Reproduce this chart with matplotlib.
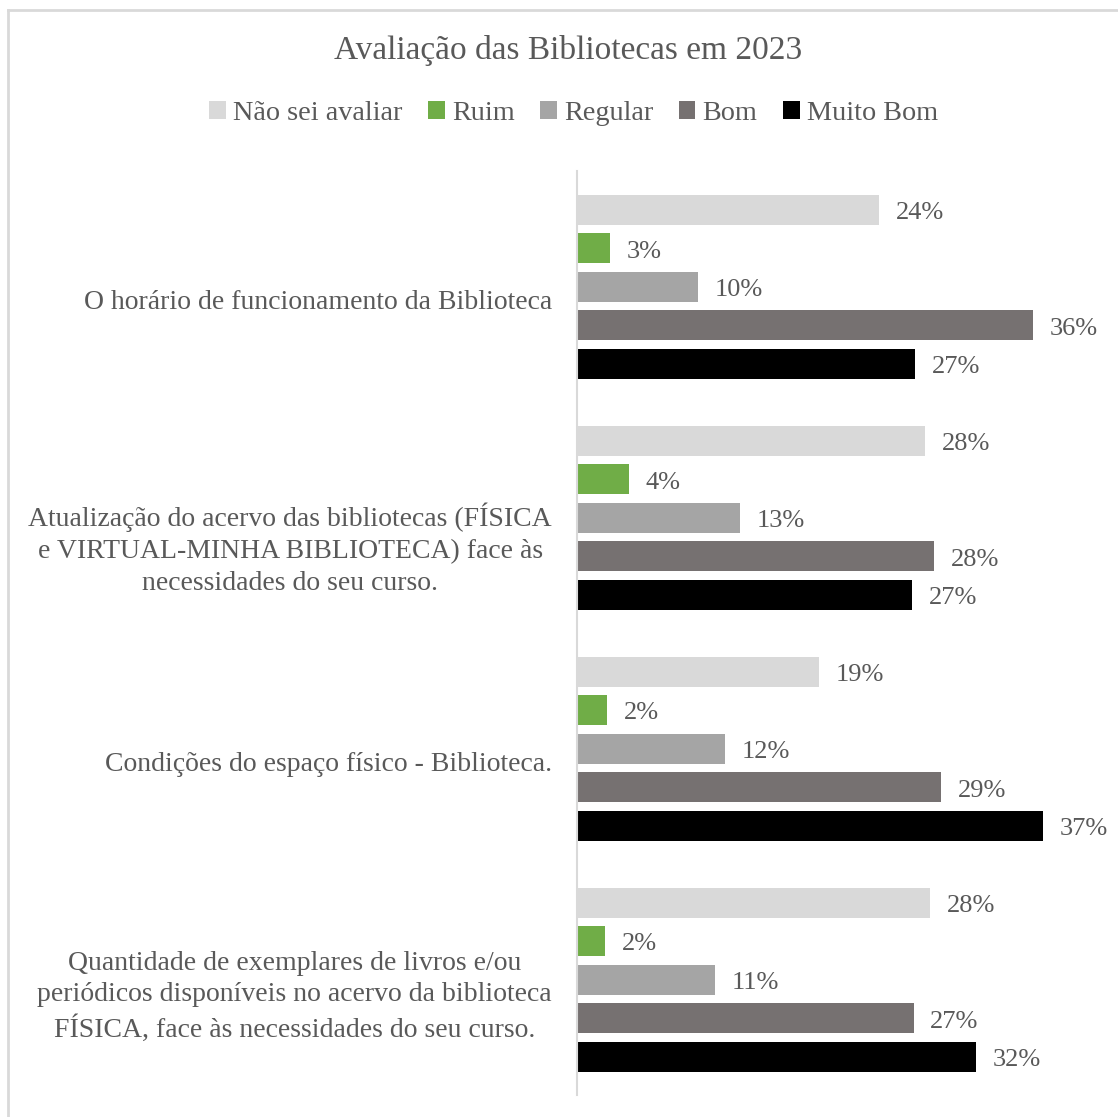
"""
Avaliação das Bibliotecas em 2023 - horizontal grouped bars per question.
"""

import matplotlib.pyplot as plt
import numpy as np
from matplotlib.lines import Line2D
from matplotlib.patches import Patch

plt.rcParams["font.family"] = ["Liberation Serif", "DejaVu Serif"]

TEXT_COLOR = "#595959"

questions = [
    "O horário de funcionamento da Biblioteca",
    "Atualização do acervo das bibliotecas (FÍSICA\n"
    "e VIRTUAL-MINHA BIBLIOTECA) face às\n"
    "necessidades do seu curso.",
    "Condições do espaço físico - Biblioteca.",
    "Quantidade de exemplares de livros e/ou\n"
    "periódicos disponíveis no acervo da biblioteca\n"
    "FÍSICA, face às necessidades do seu curso.",
]

series_names = ["Não sei avaliar", "Ruim", "Regular", "Bom", "Muito Bom"]
series_colors = ["#d9d9d9", "#70ad47", "#a5a5a5", "#767171", "#000000"]

# percentages per question, in the order of `questions`
nao_sei = [23.9, 27.5, 19.1, 27.9]
ruim = [2.6, 4.1, 2.4, 2.2]
regular = [9.6, 12.9, 11.7, 10.9]
bom = [36.0, 28.2, 28.8, 26.6]
muito_bom = [26.7, 26.5, 36.8, 31.5]

series_values = [nao_sei, ruim, regular, bom, muito_bom]

# vertical nudge (points) of each category label below its group centre
label_drop = [11.5, 22.5, 11.5, 12]


def main():
    fig = plt.figure(figsize=(11.18, 11.17), dpi=100)
    ax = fig.add_axes([0.516, 0.0193, 0.47, 0.8272])

    # thin frame around the chart area
    fig.add_artist(Line2D([7.5 / 1118, 7.5 / 1118], [0, 1 - 9.5 / 1117],
                          transform=fig.transFigure, color="#d9d9d9", lw=2))
    fig.add_artist(Line2D([7.5 / 1118, 1], [1 - 9.5 / 1117, 1 - 9.5 / 1117],
                          transform=fig.transFigure, color="#d9d9d9", lw=2))

    y = np.arange(len(questions))
    step = 0.1667
    height = 0.13

    for idx, (name, values, color) in enumerate(zip(series_names, series_values, series_colors)):
        offset = (idx - 2) * step
        bars = ax.barh(y + offset, values, height, color=color, label=name)
        labels = [f"{int(v + 0.5)}%" for v in values]
        texts = ax.bar_label(bars, labels=labels, padding=12, fontsize=19, color=TEXT_COLOR)
        for t in texts:
            t.xyann = (12, -2.2)

    ax.set_ylim(len(questions) - 0.5, -0.5)
    ax.set_xlim(0, (1100 - 577) / 12.6)
    ax.set_yticks(y)
    ax.set_yticklabels([])
    ax.tick_params(axis="y", length=0)
    ax.tick_params(axis="x", bottom=False, labelbottom=False)

    # category labels: right-aligned blocks, lines centred within each block
    for i, (text, drop) in enumerate(zip(questions, label_drop)):
        ax.annotate(text, xy=(0, i), xycoords=("axes fraction", "data"),
                    xytext=(-18, -drop), textcoords="offset points",
                    ha="right", va="center", multialignment="center",
                    fontsize=20, color=TEXT_COLOR, linespacing=1.36)

    for side in ["top", "right", "bottom"]:
        ax.spines[side].set_visible(False)
    ax.spines["left"].set_color("#d9d9d9")
    ax.spines["left"].set_linewidth(1.5)

    fig.text(0.508, 1 - 51 / 1117, "Avaliação das Bibliotecas em 2023",
             ha="center", va="center", fontsize=24, color=TEXT_COLOR)

    handles = [Patch(facecolor=c, label=n) for n, c in zip(series_names, series_colors)]
    fig.legend(handles=handles, loc="center", bbox_to_anchor=(0.513, 1 - 113 / 1117),
               ncol=5, frameon=False, fontsize=20.3, labelcolor=TEXT_COLOR,
               handlelength=0.6, handleheight=0.6, handletextpad=0.25,
               columnspacing=0.9)

    fig.savefig("out.png", dpi=100)
    plt.close(fig)


if __name__ == "__main__":
    main()
